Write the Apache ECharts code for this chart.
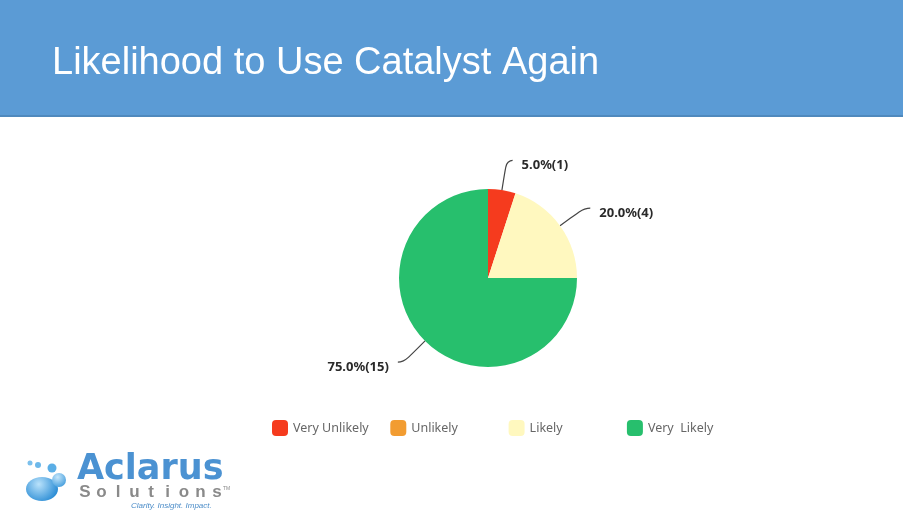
<!DOCTYPE html>
<html>
<head>
<meta charset="utf-8">
<title>Likelihood to Use Catalyst Again</title>
<script src="https://cdn.jsdelivr.net/npm/echarts@6/dist/echarts.min.js"></script>
<style>
  html, body { margin: 0; padding: 0; background: #fff; }
  #chart { width: 903px; height: 511px; }
</style>
</head>
<body>
<div id="chart"></div>
<script>
const categories = ['Very Unlikely', 'Unlikely', 'Likely', 'Very  Likely'];
const counts = [1, 0, 4, 15];
const colors = ['#f53b1e', '#f29c31', '#fff8bf', '#27bf6d'];

const chart = echarts.init(document.getElementById('chart'));

// "Solutions" is letter-spaced in the logo, so each letter is placed separately
const solutionLetters = 'Solutions'.split('').map((ch, i) => ({
  type: 'text',
  x: 85 + i * 16.5,
  y: 492,
  style: {
    text: ch, fill: '#8a8a8a', align: 'center', verticalAlign: 'middle',
    font: 'bold 17px "Liberation Sans", Arial, sans-serif'
  }
}));

// legend items sit in fixed-width columns, one legend per column
const legends = categories.map((name, i) => ({
  left: 272 + i * 118.3,
  top: 420,
  padding: 0,
  itemWidth: 16,
  itemHeight: 16,
  icon: 'roundRect',
  selectedMode: false,
  data: [name],
  textStyle: { color: '#666', fontSize: 12.5, fontFamily: '"Noto Sans", sans-serif' }
}));

chart.setOption({
  animation: false,
  graphic: [
    { type: 'rect', shape: { x: 0, y: 0, width: 903, height: 117 }, style: { fill: '#5b9bd5' } },
    { type: 'rect', shape: { x: 0, y: 115, width: 903, height: 2 }, style: { fill: '#4f89bd' } },
    {
      type: 'text', left: 52, top: 45,
      style: { text: 'Likelihood to Use Catalyst Again', fill: '#fff', font: '38px "Liberation Sans", Arial, sans-serif' }
    },
    // logo bubbles
    {
      type: 'ellipse', shape: { cx: 42, cy: 489, rx: 16, ry: 12 },
      style: { fill: new echarts.graphic.RadialGradient(0.4, 0.3, 0.8, [
        { offset: 0, color: '#b9e2fb' }, { offset: 1, color: '#2f8fd6' }]) }
    },
    {
      type: 'circle', shape: { cx: 59, cy: 480, r: 7 },
      style: { fill: new echarts.graphic.RadialGradient(0.4, 0.3, 0.8, [
        { offset: 0, color: '#c4e6fb' }, { offset: 1, color: '#3b98da' }]) }
    },
    { type: 'circle', shape: { cx: 52, cy: 468, r: 4.5 }, style: { fill: '#5aaee6' } },
    { type: 'circle', shape: { cx: 38, cy: 465, r: 3 }, style: { fill: '#6db8ea' } },
    { type: 'circle', shape: { cx: 30, cy: 463, r: 2.5 }, style: { fill: '#7cc0ec' } },
    {
      type: 'text', left: 77, top: 452,
      style: { text: 'Aclarus', fill: '#4b92d2', font: 'bold 35px "DejaVu Sans", sans-serif' }
    },
    ...solutionLetters,
    {
      type: 'text', left: 223, top: 486,
      style: { text: 'TM', fill: '#8a8a8a', font: '5px sans-serif' }
    },
    {
      type: 'text', left: 131, top: 502,
      style: { text: 'Clarity. Insight. Impact.', fill: '#4b8cc8', font: 'italic 8px "Liberation Sans", Arial, sans-serif' }
    }
  ],
  legend: legends,
  series: [{
    type: 'pie',
    center: [488, 278],
    radius: 89,
    startAngle: 90,
    clockwise: true,
    avoidLabelOverlap: false,
    label: {
      color: '#2a2a2a',
      fontSize: 13,
      fontWeight: 'bold',
      fontFamily: '"Noto Sans", sans-serif',
      distanceToLabelLine: 9,
      formatter: p => p.percent.toFixed(1) + '%(' + p.value + ')'
    },
    labelLayout: { dy: 5 },
    labelLine: { length: 30, length2: 6, smooth: 0.6, lineStyle: { color: '#444', width: 1.2 } },
    data: categories.map((name, i) => ({
      name,
      value: counts[i],
      itemStyle: { color: colors[i] },
      label: { show: counts[i] > 0 },
      labelLine: { show: counts[i] > 0 }
    }))
  }]
});
</script>
</body>
</html>
